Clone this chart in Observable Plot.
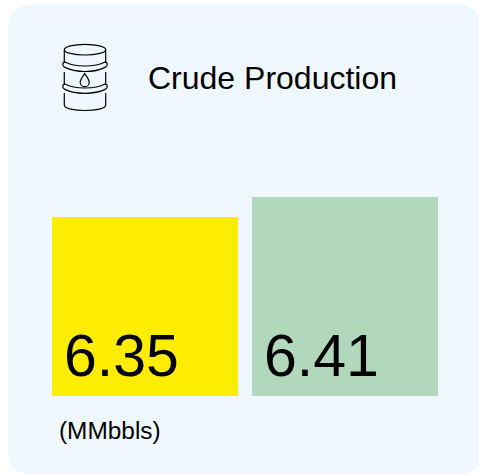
<!DOCTYPE html>
<html>
<head>
<meta charset="utf-8">
<script src="https://cdn.jsdelivr.net/npm/d3@7"></script>
<script src="https://cdn.jsdelivr.net/npm/@observablehq/plot@0.6"></script>
<style>
html,body{margin:0;padding:0;background:#fff;overflow:hidden}
body{width:479px;height:474px;position:relative;font-family:"Liberation Sans",Arial,sans-serif;color:#000}
#card{position:absolute;left:8px;top:5px;width:473px;height:469px;border-radius:20px;background:#f0f8ff}
#chart{position:absolute;left:0;top:0}
#chart svg{background:transparent;display:block}
#title{position:absolute;left:148px;top:59px;font-size:32px;line-height:38px;white-space:nowrap}
#unit{position:absolute;left:59px;top:417px;font-size:24.4px;line-height:28px;white-space:nowrap}
#icon{position:absolute;left:60px;top:40px}
</style>
</head>
<body>
<div id="card"></div>
<div id="chart"></div>
<svg id="icon" width="50" height="74" viewBox="0 0 50 74" fill="none" stroke="#000" stroke-width="1.2">
  <ellipse cx="25" cy="9.700" rx="20.700" ry="5.300"/>
  <path d="M4.300 9.700V23M45.700 9.700V23M4.300 32V45M45.700 32V45M4.300 53V65C4.300 68.500 14 70.500 25 70.500S45.700 68.500 45.700 65V53"/>
  <path d="M5 22C3.800 22 2.800 23 2.800 24.700C2.800 26.200 3.800 26.800 5 27.400C10 30 17 31.500 25 31.500S40 30 45 27.400C46.200 26.800 47.200 26.200 47.200 24.700C47.200 23 46.200 22 45 22C40 24.800 33 26 25 26S10 24.800 5 22Z"/>
  <path d="M5 44C3.800 44 2.800 45 2.800 46.700C2.800 48.200 3.800 48.800 5 49.400C10 52 17 53.300 25 53.300S40 52 45 49.400C46.200 48.800 47.200 48.200 47.200 46.700C47.200 45 46.200 44 45 44C40 46.800 33 48 25 48S10 46.800 5 44Z"/>
  <path d="M24.700 33.500C23 36.500 20.200 39.500 20.200 42.200C20.200 44.800 22.200 46.700 24.700 46.700S29.200 44.800 29.200 42.200C29.200 39.500 26.400 36.500 24.700 33.500Z"/>
</svg>
<div id="title">Crude Production</div>
<div id="unit">(MMbbls)</div>
<script>
const periods = ["Prior", "Current"];
const values = [6.35, 6.41];
const labels = ["6.35", "6.41"];
const barColors = ["#ffed00", "#b1d7bc"];
const baseline = 5.813;

const rows = periods.map((p, i) => ({period: p, value: values[i], label: labels[i], color: barColors[i]}));

const plot = Plot.plot({
  width: 479,
  height: 474,
  margin: 0,
  style: {background: "transparent", fontFamily: '"Liberation Sans",Arial,sans-serif'},
  x: {domain: periods, range: [52, 438], paddingInner: 0.07, paddingOuter: 0, round: false, axis: null},
  y: {domain: [baseline, 6.41], range: [396, 197], axis: null},
  marks: [
    Plot.barY(rows, {x: "period", y1: baseline, y2: "value", fill: "color"}),
    Plot.text(rows, {
      x: "period", y: baseline, text: "label",
      textAnchor: "start", lineAnchor: "bottom",
      dx: -81.500, dy: -21, fontSize: 59, fill: "#000"
    })
  ]
});
document.getElementById("chart").append(plot);
</script>
</body>
</html>
